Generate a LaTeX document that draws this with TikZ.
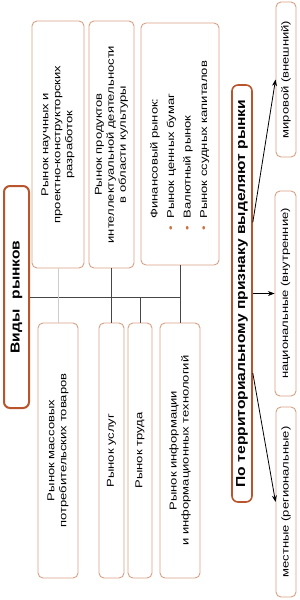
\documentclass[tikz,border=0pt]{standalone}
\usepackage{fontspec}
\usepackage{xcolor}
\usepackage{tikz}
\usetikzlibrary{arrows.meta, calc}
\newfontfamily\boxfont{Liberation Sans}[FakeStretch=1.3]
\newfontfamily\headfont{Liberation Sans}[FakeStretch=1.2]
\definecolor{mybrown}{RGB}{185,85,45}
\definecolor{mytan}{RGB}{216,160,132}
\definecolor{mydot}{RGB}{205,115,65}
\definecolor{mydark}{RGB}{70,70,70}
\definecolor{mylight}{RGB}{205,205,205}
\tikzset{
  block/.style={rectangle, draw=mytan, fill=white, rotate=90, align=center,
    font=\boxfont\fontsize{10}{12}\selectfont, rounded corners=5pt,
    line width=0.9pt, inner sep=0pt},
  sideblock/.style={block, minimum height=20},
  headblock/.style={rectangle, draw=mybrown, fill=white, rotate=90, align=center,
    font=\headfont\bfseries\fontsize{13}{15}\selectfont, rounded corners=6pt,
    line width=2pt, inner sep=0pt},
  line/.style={thin, color=mydark},
  lightline/.style={thin, color=mylight},
  arrow/.style={-Stealth, thick, color=black}
}
\newcommand{\findot}{\textcolor{mydot}{•}}

\begin{document}
\begin{tikzpicture}[x=1pt, y=-1pt]
  \useasboundingbox (0,0) rectangle (300,600);

  % Title
  \node[headblock, minimum width=222, minimum height=25] (vidy) at (16.5,297) {Виды\hspace{10pt}рынков};

  % Upper row
  \node[block, minimum width=247, minimum height=52] (nauka) at (58,144.5)
    {Рынок научных и\\проектно-конструкторских\\разработок};
  \node[block, minimum width=247, minimum height=45] (kult) at (111.5,144.5)
    {Рынок продуктов\\интеллектуальной деятельности\\в области культуры};
  \node[block, minimum width=242, minimum height=78] (fin) at (180,144)
    {\begin{tabular}{@{}c@{\hspace{8pt}}l@{\hspace{4pt}}}
       & Финансовый рынок:\\[4.5pt]
     \findot & Рынок ценных бумаг\\[4.5pt]
     \findot & Валютный рынок\\[4.5pt]
     \findot & Рынок ссудных капиталов
     \end{tabular}};

  % Lower row
  \node[block, minimum width=255, minimum height=40] (massa) at (58,450.5)
    {Рынок массовых\\потребительских товаров};
  \node[block, minimum width=255, minimum height=25] (uslugi) at (111.5,450.5) {Рынок услуг};
  \node[block, minimum width=255, minimum height=24] (trud) at (140,450.5) {Рынок труда};
  \node[block, minimum width=255, minimum height=40] (info) at (180,450.5)
    {Рынок информации\\и информационных технологий};

  % Tree
  \draw[line] (vidy.south) -- (vidy.south -| fin.west);
  \draw[lightline] (nauka.west) -- (massa.east);
  \draw[line] (kult.west) -- (uslugi.east);
  \draw[line] (trud.east |- vidy.south) -- (trud.east);
  \draw[line] (fin.west) -- (info.east);

  % Territory
  \node[headblock, line width=1.6pt, minimum width=417, minimum height=20] (terr) at (242,293.5)
    {По территориальному признаку выделяют рынки};
  \node[sideblock, minimum width=155] (mir) at (286,79.5) {мировой (внешний)};
  \node[sideblock, minimum width=205, minimum height=21] (nac) at (285.5,293.5) {национальные (внутренние)};
  \node[sideblock, minimum width=190] (mest) at (286,502) {местные (региональные)};

  \draw[arrow] ($(terr.south)!0.34!(terr.south east)$) -- (mir.north);
  \draw[arrow] (terr.south) -- (nac.north);
  \draw[arrow] ($(terr.south)!0.38!(terr.south west)$) -- (mest.north);
\end{tikzpicture}
\end{document}
